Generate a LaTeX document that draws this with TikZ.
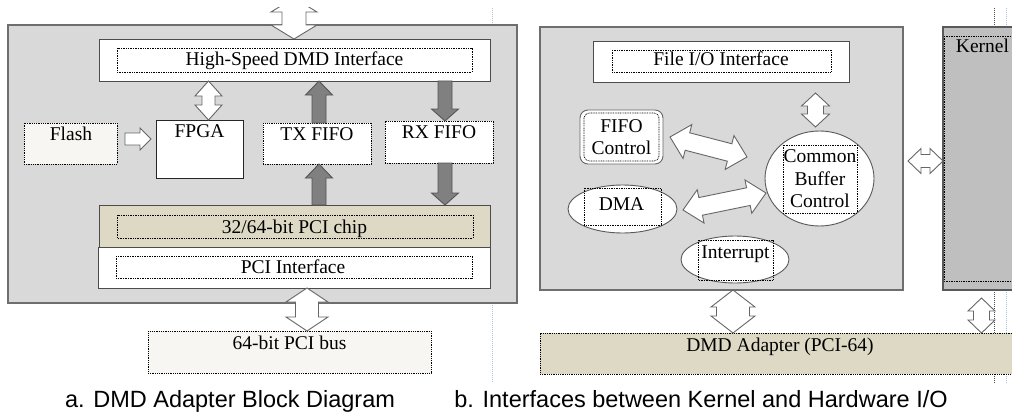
\documentclass[tikz,border=0pt]{standalone}
\usepackage{fontspec}
\setmainfont{Liberation Serif}
\newfontfamily\capfont{Liberation Sans}
\usetikzlibrary{calc,shapes.geometric}

\definecolor{panelgray}{HTML}{D9D9D9}
\definecolor{kerngray}{HTML}{BFBFBF}
\definecolor{tanfill}{HTML}{DDD9C4}
\definecolor{cream}{HTML}{F7F6F2}
\definecolor{edgegray}{HTML}{6E6E6E}
\definecolor{arrgray}{HTML}{808080}
\definecolor{arredge}{HTML}{555555}
\definecolor{guideblue}{HTML}{A9C3DE}

% double block arrow: style, from, to, head length, shaft half width, head half width
\newcommand\dblarrow[6]{%
  \draw[#1] (#2) -- ($(#2)!#4!(#3)!#6!90:(#3)$) -- ($(#2)!#4!(#3)!#5!90:(#3)$)
    -- ($(#3)!#4!(#2)!#5!-90:(#2)$) -- ($(#3)!#4!(#2)!#6!-90:(#2)$) -- (#3)
    -- ($(#3)!#4!(#2)!#6!90:(#2)$) -- ($(#3)!#4!(#2)!#5!90:(#2)$)
    -- ($(#2)!#4!(#3)!#5!-90:(#3)$) -- ($(#2)!#4!(#3)!#6!-90:(#3)$) -- cycle;}
% single block arrow: style, tail, tip, head length, shaft half width, head half width
\newcommand\sglarrow[6]{%
  \draw[#1] ($(#2)!#5!90:(#3)$) -- ($(#3)!#4!(#2)!#5!-90:(#2)$) -- ($(#3)!#4!(#2)!#6!-90:(#2)$)
    -- (#3) -- ($(#3)!#4!(#2)!#6!90:(#2)$) -- ($(#3)!#4!(#2)!#5!90:(#2)$)
    -- ($(#2)!#5!-90:(#3)$) -- cycle;}

\tikzset{
  nw/.style={anchor=north west, inner sep=0pt, outer sep=0pt},
  wh/.style 2 args={minimum width=#1pt, minimum height=#2pt},
  panel/.style={nw, draw=edgegray, line width=1.2pt, fill=panelgray},
  solidbox/.style={nw, draw=black!70, line width=0.9pt, fill=white},
  dotbox/.style={nw, draw=black, line width=0.9pt, dash pattern=on 1pt off 0.8pt},
  innerdot/.style={draw=black, line width=0.7pt, dash pattern=on 0.9pt off 0.8pt},
  lbl/.style={font=\fontsize{19.5}{22.5}\selectfont, inner sep=0pt, anchor=base, text=black},
  mlbl/.style={font=\fontsize{19.5}{22.5}\selectfont, inner sep=0pt, align=center, text=black},
  caption/.style={font=\capfont\fontsize{23.5}{26}\selectfont, inner sep=0pt, anchor=base},
  oval/.style={ellipse, draw=black!65, line width=0.9pt, fill=white, inner sep=0pt},
  whitearrow/.style={fill=white, draw=black!60, line width=0.9pt, line join=miter},
  grayarrow/.style={fill=arrgray, draw=arredge, line width=0.9pt, line join=miter},
  guide/.style={draw=guideblue, line width=0.8pt, dash pattern=on 1pt off 1pt},
  darkguide/.style={draw=black!70, line width=0.7pt, dash pattern=on 1pt off 1pt},
}

\begin{document}
\begin{tikzpicture}[x=1pt,y=-1pt]
\useasboundingbox (0,0) rectangle (1012,412);
\clip (0,0) rectangle (1012,412);
\fill[white] (0,0) rectangle (1012,412);

% page guide lines
\draw[guide] (492,8) -- (492,25);
\draw[guide] (492,303) -- (492,383);
\draw[guide] (1006,8) -- (1006,27);
\draw[guide] (1006,290) -- (1006,383);
\draw[darkguide] (994,8) -- (994,27);
\draw[darkguide] (994,290) -- (994,383);

% ---------- panel a ----------
\node[panel, wh={509}{278}] (outA) at (8,25) {};
\node[solidbox, wh={391}{42}] (hs) at (99,39) {};
\draw[innerdot] ($(hs.north west)+(18,9)$) rectangle ($(hs.south east)+(-18,-9)$);
\node[lbl] (hst) at (294.5,66) {High-Speed DMD Interface};

\node[dotbox, fill=cream, wh={93}{41}] (flash) at (24,123) {};
\node[lbl] (flasht) at (71,140) {Flash};

\node[solidbox, draw=black!85, wh={87}{58}] (fpga) at (156,120) {};
\node[lbl] (fpgat) at (199.5,137) {FPGA};

\node[dotbox, fill=white, wh={108}{41}] (tx) at (263,123) {};
\node[lbl] (txt) at (317,140) {TX FIFO};

\node[dotbox, fill=white, wh={108}{42}] (rx) at (385,121) {};
\node[lbl] (rxt) at (439,138) {RX FIFO};

\node[solidbox, fill=tanfill, wh={391}{42}] (chip) at (99,205) {};
\draw[innerdot] ($(chip.north west)+(18,10)$) rectangle ($(chip.south east)+(-17,-9)$);
\node[lbl] (chipt) at (294.5,233) {32/64-bit PCI chip};

\node[solidbox, wh={392}{41}] (pcii) at (98,247) {};
\draw[innerdot] ($(pcii.north west)+(18,9)$) rectangle ($(pcii.south east)+(-18,-10)$);
\node[lbl] (pciit) at (293,273) {PCI Interface};

\node[dotbox, fill=cream, wh={283}{42}] (bus) at (148,331) {};
\node[lbl] (bust) at (289.5,349) {64-bit PCI bus};

% arrows panel a
\coordinate (ttop) at (294,-2);
\coordinate (tbot) at (294,0 |- hs.north);
\begin{scope}
  \clip (0,8) rectangle (1012,412);
  \dblarrow{whitearrow}{ttop}{tbot}{14pt}{12pt}{23pt}
\end{scope}

\coordinate (hf1) at (208.5,0 |- hs.south);
\coordinate (hf2) at (208.5,0 |- fpga.north);
\dblarrow{whitearrow}{hf1}{hf2}{15pt}{6.5pt}{13.5pt}

\coordinate (ff1) at (125,139);
\coordinate (ff2) at ($(fpga.west |- ff1)+(-5,0)$);
\sglarrow{whitearrow}{ff1}{ff2}{11pt}{6pt}{11pt}

\coordinate (tx1) at (319,0 |- tx.north);
\coordinate (tx2) at (319,0 |- hs.south);
\sglarrow{grayarrow}{tx1}{tx2}{14pt}{7pt}{13.5pt}
\coordinate (tx3) at (319,0 |- chip.north);
\coordinate (tx4) at (319,0 |- tx.south);
\sglarrow{grayarrow}{tx3}{tx4}{14pt}{7pt}{13.5pt}

\coordinate (rx1) at (445,0 |- hs.south);
\coordinate (rx2) at (445,0 |- rx.north);
\sglarrow{grayarrow}{rx1}{rx2}{12pt}{7pt}{13.5pt}
\coordinate (rx3) at (445,0 |- rx.south);
\coordinate (rx4) at (445,0 |- chip.north);
\sglarrow{grayarrow}{rx3}{rx4}{12pt}{7pt}{13.5pt}

\coordinate (pb1) at (307,0 |- pcii.south);
\coordinate (pb2) at (307,0 |- bus.north);
\dblarrow{whitearrow}{pb1}{pb2}{14pt}{11.5pt}{21pt}

% ---------- panel b ----------
\node[panel, wh={363}{263}] (outB) at (540,27) {};
\node[solidbox, wh={256}{41}] (fio) at (593,41) {};
\draw[innerdot] ($(fio.north west)+(19,9)$) rectangle ($(fio.south east)+(-18,-10)$);
\node[lbl] (fiot) at (721,66) {File I/O Interface};

\node[solidbox, rounded corners=8pt, draw=black!60, wh={83}{54}] (fifo) at (580,110) {};
\draw[innerdot, rounded corners=5pt] ($(fifo.north west)+(4,3)$) rectangle ($(fifo.south east)+(-4,-3)$);
\node[mlbl] (fifot) at (621.5,137) {FIFO\\Control};

\node[oval, minimum width=109pt, minimum height=95pt] (cbc) at (819.5,178.5) {};
\draw[innerdot] (783,145) rectangle (857,213);
\node[mlbl] (cbct) at (820,179) {Common\\Buffer\\Control};

\node[oval, minimum width=109pt, minimum height=48pt] (dma) at (622.5,209) {};
\draw[innerdot] (584,188) rectangle (661,225);
\node[lbl] (dmat) at (621.5,210) {DMA};

\node[oval, minimum width=108pt, minimum height=47pt] (intr) at (735,259.5) {};
\draw[innerdot] (698,240) rectangle (773,280);
\node[lbl] (intrt) at (735.5,258) {Interrupt};

\node[nw, draw=black!65, line width=1.1pt, fill=kerngray, wh={100}{263}] (kern) at (943,27) {};
\draw[innerdot] (944,36) rectangle (1030,281);
\node[lbl] (kernt) at (982.5,53) {Kernel};

\node[dotbox, fill=tanfill, wh={500}{41}] (adapt) at (540,333) {};
\node[lbl] (adaptt) at (780,351) {DMD Adapter (PCI-64)};

% arrows panel b
\coordinate (fc1) at (815.5,93);
\coordinate (fc2) at (815.5,127);
\dblarrow{whitearrow}{fc1}{fc2}{13pt}{8pt}{14pt}

\coordinate (fb1) at (670,137);
\coordinate (fb2) at (747,157);
\dblarrow{whitearrow}{fb1}{fb2}{18pt}{9pt}{17.5pt}

\coordinate (db1) at (683,210);
\coordinate (db2) at (766,193);
\dblarrow{whitearrow}{db1}{db2}{18pt}{9pt}{17pt}

\coordinate (ad1) at (733,0 |- outB.south);
\coordinate (ad2) at (733,0 |- adapt.north);
\dblarrow{whitearrow}{ad1}{ad2}{17pt}{16.5pt}{22pt}

\coordinate (kk1) at (908,161);
\coordinate (kk2) at (kern.west |- kk1);
\dblarrow{whitearrow}{kk1}{kk2}{13pt}{6.5pt}{12.5pt}

\coordinate (ka1) at (981.5,298);
\coordinate (ka2) at (981.5,0 |- adapt.north);
\dblarrow{whitearrow}{ka1}{ka2}{13pt}{8pt}{13.5pt}

% captions
\node[caption] (capa) at (230,407) {a. DMD Adapter Block Diagram};
\node[caption] (capb) at (701,407) {b. Interfaces between Kernel and Hardware I/O};
\end{tikzpicture}
\end{document}
